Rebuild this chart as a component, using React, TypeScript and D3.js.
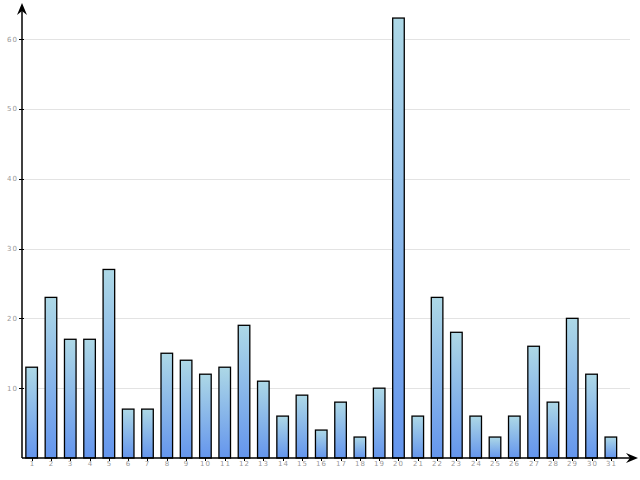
import React from "react";
import * as d3 from "d3";

const days = d3.range(1, 32).map(String);
const counts = [13, 23, 17, 17, 27, 7, 7, 15, 14, 12, 13, 19, 11, 6, 9, 4, 8, 3, 10, 63, 6, 23, 18, 6, 3, 6, 16, 8, 20, 12, 3];
const yTicks = [10, 20, 30, 40, 50, 60];

const W = 640;
const H = 480;
const x0 = 22;
const y0 = 458;

export default function App() {
  const x = d3.scaleBand<string>().domain(days).range([x0, 620.5]).paddingInner(0.4).paddingOuter(0.2);
  const y = d3.scaleLinear().domain([0, 60]).range([y0, y0 - 419]);
  const bw = x.bandwidth();

  return (
    <svg width={W} height={H} style={{ position: "absolute", left: 0, top: 0 }}>
      <defs>
        <linearGradient id="barFill" x1="0" y1="0" x2="0" y2="1">
          <stop offset="0%" stopColor="#add8e6" />
          <stop offset="100%" stopColor="#6495ed" />
        </linearGradient>
      </defs>
      {yTicks.map((t) => (
        <g key={t}>
          <line x1={x0} x2={630} y1={Math.round(y(t)) + 0.5} y2={Math.round(y(t)) + 0.5} stroke="#e3e3e3" strokeWidth={1} />
          <line x1={x0 - 3} x2={x0 + 2} y1={Math.round(y(t)) + 0.5} y2={Math.round(y(t)) + 0.5} stroke="#000" strokeWidth={1} />
          <text x={x0 - 4} y={y(t) + 2.5} textAnchor="end" fontSize={7} fill="#999" fontFamily="DejaVu Sans" letterSpacing={1}>
            {t}
          </text>
        </g>
      ))}
      {days.map((d, i) => {
        const top = y(counts[i]);
        return (
          <rect
            key={d}
            x={x(d)!}
            y={top}
            width={bw}
            height={y0 - top}
            fill="url(#barFill)"
            stroke="#000"
            strokeWidth={1.3}
          />
        );
      })}
      {days.map((d) => {
        const cx = Math.round(x(d)! + bw / 2) + 0.5;
        return (
          <g key={"t" + d}>
            <line x1={cx} x2={cx} y1={y0} y2={y0 + 3} stroke="#000" strokeWidth={1} />
            <text x={cx} y={y0 + 8} textAnchor="middle" fontSize={7} fill="#999" fontFamily="DejaVu Sans" letterSpacing={1}>
              {d}
            </text>
          </g>
        );
      })}
      <line x1={x0} x2={x0} y1={y0} y2={6} stroke="#000" strokeWidth={1.5} />
      <line x1={x0} x2={634} y1={y0} y2={y0} stroke="#000" strokeWidth={1.5} />
      <path d={`M${x0},3 L${x0 - 5},15 L${x0},11 L${x0 + 5},15 Z`} fill="#000" />
      <path d={`M638,${y0} L626,${y0 - 5} L630,${y0} L626,${y0 + 5} Z`} fill="#000" />
    </svg>
  );
}
